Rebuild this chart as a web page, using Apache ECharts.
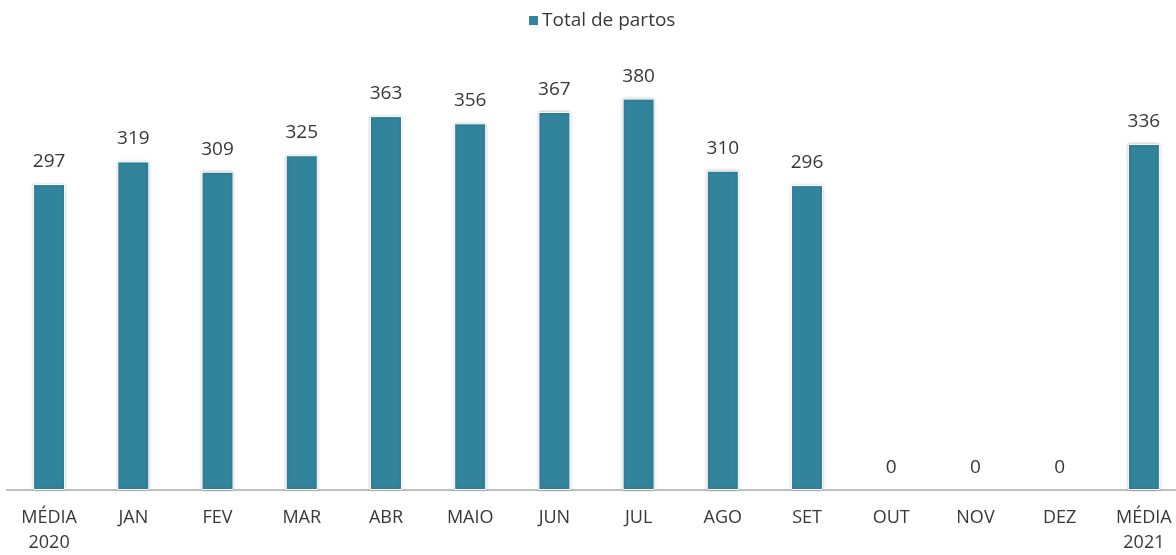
<!DOCTYPE html>
<html>
<head>
<meta charset="utf-8">
<script src="https://cdn.jsdelivr.net/npm/echarts@6/dist/echarts.min.js"></script>
<style>html,body{margin:0;padding:0;background:#fff;overflow:hidden}#c{width:1186px;height:555px}</style>
</head>
<body>
<div id="c"></div>
<script>
const categories = ['MÉDIA\n2020','JAN','FEV','MAR','ABR','MAIO','JUN','JUL','AGO','SET','OUT','NOV','DEZ','MÉDIA\n2021'];
const seriesName = 'Total de partos';
const values = [297,319,309,325,363,356,367,380,310,296,0,0,0,336];

const chart = echarts.init(document.getElementById('c'));
const font = '"Open Sans", "Liberation Sans", sans-serif';
const barData = values.map(v => v === 0 ? { value: v, itemStyle: { borderWidth: 0, shadowBlur: 0, shadowColor: 'transparent' } } : v);
chart.setOption({
  animation: false,
  textStyle: { fontFamily: font },
  legend: {
    top: 6, left: 522,
    itemWidth: 11, itemHeight: 11, itemGap: 6,
    icon: 'rect',
    textStyle: { fontSize: 19, color: '#383838', fontFamily: font, padding: [0, 0, 0, -2] },
    data: [seriesName]
  },
  grid: { left: 7, right: 0, top: 78, bottom: 63, containLabel: false },
  xAxis: {
    type: 'category', data: categories,
    axisLine: { lineStyle: { color: '#bfbfbf', width: 2 } },
    axisTick: { show: false },
    axisLabel: { color: '#383838', fontSize: 18, margin: 15, lineHeight: 25, interval: 0, fontFamily: font }
  },
  yAxis: { type: 'value', min: 0, max: 400, show: false, splitLine: { show: false } },
  series: [{
    name: seriesName, type: 'bar', data: barData, barWidth: 32,
    itemStyle: { color: '#31849B', borderColor: '#ffffff', borderWidth: 1, shadowColor: 'rgba(0,0,0,0.25)', shadowBlur: 3 },
    label: { show: true, position: 'top', distance: 13, color: '#383838', fontSize: 19, fontFamily: font }
  }]
});
</script>
</body>
</html>
